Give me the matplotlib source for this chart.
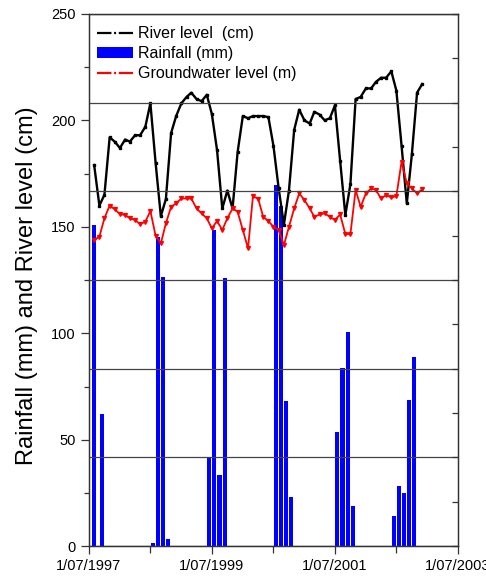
import matplotlib
matplotlib.use("Agg")
import matplotlib.pyplot as plt
import matplotlib.dates as mdates
from matplotlib.ticker import MultipleLocator
from matplotlib.lines import Line2D
from matplotlib.patches import Patch
import pandas as pd

plt.rcParams["font.family"] = ["Liberation Sans", "DejaVu Sans"]

# monthly series, Aug 1997 - Dec 2002
months = pd.date_range("1997-08-01", periods=65, freq="MS")
river_level = [
    179, 160, 165, 192, 190, 187, 191, 190, 193, 193,
    197, 208, 180, 155, 163, 194, 202, 208, 211, 213,
    210, 209, 212, 203, 186, 158.6, 167, 158.6, 185, 202,
    201, 202, 202, 202, 201.5, 188, 168, 151, 167, 195.5,
    205, 200, 198.5, 204, 202.7, 200, 201, 207, 181, 155.5,
    170, 210, 211, 215, 215, 218, 220, 220, 223, 214,
    188, 161, 184, 213, 217,
]
groundwater = [
    143.8, 145.4, 154, 160, 158.2, 156, 155.5, 154, 153.2, 151.2,
    152.4, 157.4, 145.8, 142.2, 151.6, 159.4, 161, 163.3, 163.3, 163.3,
    158.6, 156.3, 154, 149.3, 152.7, 148.5, 154, 158.6, 157.1, 148.5,
    139.9, 164.3, 163.2, 154.7, 152.7, 150, 148.5, 141.4, 150, 158.6,
    165.7, 162.6, 158.6, 154.7, 155.8, 156.3, 154.7, 153.2, 155.8, 146.6,
    146.6, 167.3, 159.4, 165.7, 168, 167.3, 163.3, 164.9, 163.8, 164.4,
    180.6, 170.4, 168, 165.7, 167.6,
]

rain_dates = pd.to_datetime([
    "1997-08-01", "1997-09-15",
    "1998-07-15", "1998-08-15", "1998-09-15", "1998-10-15",
    "1999-06-15", "1999-07-15", "1999-08-15", "1999-09-15",
    "2000-07-15", "2000-08-15", "2000-09-15", "2000-10-15",
    "2001-07-15", "2001-08-15", "2001-09-15", "2001-10-15",
    "2002-06-15", "2002-07-15", "2002-08-15", "2002-09-15", "2002-10-15",
])
rainfall = [
    151, 62,
    1.7, 145, 126.6, 3.3,
    41.7, 148.5, 33.5, 125.8,
    169.6, 159.8, 68.3, 22.9,
    53.7, 83.5, 100.7, 19.1,
    14.1, 28.2, 25.1, 68.8, 88.7,
]

xtick_dates = pd.to_datetime(["1997-07-01", "1999-07-01", "2001-07-01", "2003-07-01"])
xtick_labels = ["1/07/1997", "1/07/1999", "1/07/2001", "1/07/2003"]
xminor_dates = pd.to_datetime(["1998-07-01", "2000-07-01", "2002-07-01"])

fig = plt.figure(figsize=(4.86, 5.78), dpi=100)
ax = fig.add_axes([0.183, 0.055, 0.759, 0.921])

ax.bar(rain_dates, rainfall, width=25, color="#0000ff", zorder=2)
ax.plot(months, river_level, color="black", lw=1.7, marker="s", ms=2, zorder=3)
ax.plot(months, groundwater, color="red", lw=1.3, marker="v", ms=2.8, zorder=3)

ax.set_xlim(pd.Timestamp("1997-07-01"), pd.Timestamp("2003-07-01"))
ax.set_ylim(0, 250)
ax.set_xticks(mdates.date2num(xtick_dates))
ax.set_xticklabels(xtick_labels)
ax.set_xticks(mdates.date2num(xminor_dates), minor=True)
ax.yaxis.set_major_locator(MultipleLocator(50))
ax.yaxis.set_minor_locator(MultipleLocator(25))
ax.tick_params(axis="both", which="major", labelsize=10.5, length=6, width=0.9,
               color="#333333")
ax.tick_params(axis="y", which="minor", length=3.5, width=0.9, color="#333333")
ax.tick_params(axis="x", which="minor", length=5, width=0.9, color="#333333")
for s in ax.spines.values():
    s.set_color("#333333")
    s.set_linewidth(0.9)

ax.set_ylabel("Rainfall (mm) and River level (cm)", fontsize=17)
ax.yaxis.set_label_coords(-0.137, 0.49)

# right axis: only ticks and horizontal grid lines
ax2 = ax.twinx()
ax2.set_ylim(0, 6)
ax2.yaxis.set_major_locator(MultipleLocator(1))
ax2.yaxis.set_minor_locator(MultipleLocator(0.5))
ax2.tick_params(axis="y", which="both", direction="in", labelright=False,
                length=4, width=0.9, color="#333333")
ax2.grid(axis="y", which="major", color="#444444", lw=0.9)
for s in ax2.spines.values():
    s.set_color("#333333")
    s.set_linewidth(0.9)

handles = [
    Line2D([], [], color="black", lw=1.6, dashes=(6.5, 1.2, 0.9, 1.2, 6.5, 2)),
    Patch(facecolor="#0000ff", edgecolor="none"),
    Line2D([], [], color="red", lw=1.6, dashes=(6.5, 1.2, 0.9, 1.2, 6.5, 2)),
]
labels = ["River level  (cm)", "Rainfall (mm)", "Groundwater level (m)"]
ax2.legend(handles, labels, loc="upper left", bbox_to_anchor=(0.0, 0.992),
           frameon=False, fontsize=11.5, handlelength=2.26, handletextpad=0.3,
           labelspacing=0.32, borderpad=0.35, borderaxespad=0.15)

fig.savefig("out.png", dpi=100)
